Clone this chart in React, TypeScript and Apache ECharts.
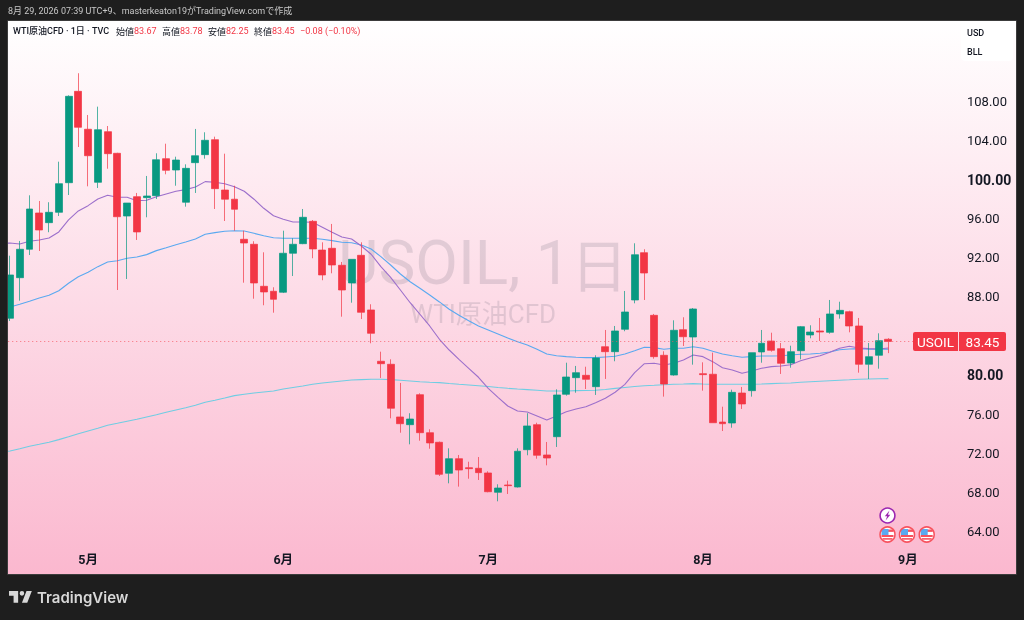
import React, { useEffect, useRef } from "react";
import * as echarts from "echarts";

const dates = [
  "4/20","4/21","4/22","4/23","4/24","4/27","4/28","4/29","4/30","5/1",
  "5/4","5/5","5/6","5/7","5/8","5/11","5/12","5/13","5/14","5/15",
  "5/18","5/19","5/20","5/21","5/22","5/26","5/27","5/28","5/29","6/1",
  "6/2","6/3","6/4","6/5","6/8","6/9","6/10","6/11","6/12","6/15",
  "6/16","6/17","6/18","6/22","6/23","6/24","6/25","6/26","6/29","6/30",
  "7/1","7/2","7/6","7/7","7/8","7/9","7/10","7/13","7/14","7/15",
  "7/16","7/17","7/20","7/21","7/22","7/23","7/24","7/27","7/28","7/29",
  "7/30","7/31","8/3","8/4","8/5","8/6","8/7","8/10","8/11","8/12",
  "8/13","8/14","8/17","8/18","8/19","8/20","8/21","8/24","8/25","8/26",
  "8/27","8/28","8/31","9/1","9/2","9/3","9/4","9/8",
];
const monthDates = ["5/1", "6/1", "7/1", "8/3", "9/1"];
const monthNames = ["5月", "6月", "7月", "8月", "9月"];
const boldTicks = [100, 80];

const opens = [85.82,89.97,92.88,96.59,95.6,96.66,99.69,109.04,105.16,99.73,104.91,102.7,96.28,98.26,98.16,98.36,102.15,100.99,97.69,101.74,102.56,104.09,98.94,98.0,93.9,93.39,89.09,88.58,88.48,92.47,93.45,95.74,92.8,92.98,91.24,89.43,92.26,86.67,81.42,81.11,75.72,74.93,78.0,74.11,73.13,69.96,71.45,70.53,70.47,69.99,68.01,68.76,68.55,72.37,74.93,71.83,73.7,78.04,79.74,79.98,78.82,82.91,82.4,84.69,87.69,92.53,86.12,82.03,80.01,84.65,83.9,80.15,80.09,75.2,75.1,78.17,78.41,82.37,83.49,82.71,81.24,82.5,84.11,84.52,84.38,86.26,86.49,85.03,81.11,82.03,83.67];
const highs = [92.22,93.73,98.4,97.82,97.69,101.84,108.63,110.89,106.62,107.47,105.49,102.75,97.61,98.64,100.38,102.7,103.68,102.35,101.57,105.19,104.85,104.4,102.66,99.38,94.78,93.7,92.57,88.99,94.78,94.0,97.0,95.87,93.59,95.47,91.58,91.85,93.59,87.25,82.4,81.62,79.2,76.1,78.14,74.46,73.2,72.51,71.83,71.14,71.62,70.16,68.83,69.2,72.51,76.1,75.13,73.16,78.55,81.27,80.94,80.86,82.03,84.62,85.03,88.61,93.49,92.88,86.26,82.44,85.61,85.92,86.87,81.31,82.3,76.77,78.51,78.79,82.3,84.62,84.34,83.29,83.01,85.03,85.1,85.85,87.69,87.51,86.59,85.85,83.29,84.28,83.78];
const lows = [85.54,87.62,92.29,92.7,94.62,96.28,98.43,103.34,99.32,99.15,101.12,88.71,89.84,93.83,96.15,98.02,100.55,99.38,97.24,98.64,102.15,97.0,95.77,94.78,89.46,87.82,87.15,86.39,88.4,90.14,93.4,91.96,89.71,90.42,85.98,87.41,85.74,83.26,79.71,75.58,74.11,72.92,73.29,72.47,69.68,68.93,68.59,69.4,69.27,68.01,67.09,67.84,68.5,71.8,71.45,70.77,72.65,77.9,78.2,78.58,77.97,79.61,81.42,84.49,87.35,87.69,81.68,77.8,79.94,82.98,81.07,78.41,75.13,74.28,74.62,76.54,77.8,81.27,82.4,80.12,80.76,81.62,83.77,83.49,84.24,85.78,84.38,80.25,79.61,80.66,82.25];
const closes = [90.25,92.88,97.0,94.85,96.66,99.59,108.53,105.36,102.45,105.11,102.66,96.21,97.61,94.65,98.33,102.04,100.96,102.01,101.16,102.45,104.03,99.08,98.0,96.97,93.52,89.43,88.51,87.76,92.47,93.39,96.15,92.91,90.25,91.27,88.71,91.85,86.43,84.28,81.17,76.61,75.03,75.51,74.11,73.06,69.85,71.45,70.29,70.43,70.02,68.07,68.45,68.69,72.21,74.8,71.8,71.52,77.97,79.81,80.25,79.57,81.75,82.4,84.52,86.46,92.32,90.45,81.89,79.09,84.59,83.93,86.77,80.05,75.13,75.03,78.24,77.05,82.3,83.26,82.54,81.21,82.4,84.96,84.41,84.41,86.26,86.63,85.03,81.11,81.89,83.53,83.45];

const ma20 = [93.5,93.52,93.42,93.7,93.83,94.03,94.65,95.88,96.8,97.34,98.02,98.4,98.2,98.2,97.85,97.89,98.26,98.54,98.81,98.98,99.25,99.8,99.73,99.59,99.28,98.81,98.0,97.07,96.31,95.95,95.67,95.67,95.64,95.13,94.62,94.14,93.93,93.21,92.37,91.1,90.01,88.71,87.41,86.23,85.03,83.67,82.57,81.62,80.7,79.78,78.65,77.73,76.84,76.33,76.23,75.82,75.41,75.82,76.26,76.54,76.77,77.18,77.63,78.25,79.06,80.25,81.17,81.21,81.04,81.21,81.55,82.06,81.89,81.38,80.76,80.53,80.19,80.43,80.7,80.87,80.94,81.07,81.48,81.75,81.99,82.34,82.75,82.95,82.78,82.71,82.68,82.78];
const ma50 = [86.85,86.97,87.25,87.56,87.89,88.17,88.64,89.4,90.07,90.52,91.1,91.58,91.71,91.96,92.09,92.33,92.74,93.04,93.35,93.62,93.93,94.41,94.58,94.72,94.78,94.75,94.51,94.27,94.06,94.0,94.0,94.0,94.0,93.9,93.76,93.59,93.55,93.32,92.91,92.12,91.27,90.35,89.56,88.89,88.2,87.49,86.74,86.12,85.57,85.03,84.62,84.21,83.8,83.42,83.09,82.65,82.16,81.99,81.89,81.83,81.79,81.79,81.86,81.93,82.16,82.5,82.85,82.81,82.65,82.75,82.75,82.91,82.75,82.44,82.16,81.99,81.83,81.89,81.96,81.96,81.99,82.06,82.14,82.16,82.24,82.37,82.6,82.68,82.71,82.65,82.65,82.65];
const ma200 = [72.15,72.24,72.47,72.72,72.92,73.13,73.4,73.7,74.01,74.29,74.56,74.87,75.07,75.28,75.48,75.72,75.95,76.2,76.44,76.67,76.92,77.22,77.43,77.66,77.9,78.04,78.17,78.28,78.38,78.58,78.74,78.89,79.06,79.2,79.3,79.4,79.5,79.54,79.58,79.58,79.54,79.47,79.4,79.33,79.27,79.23,79.14,79.06,78.99,78.92,78.84,78.74,78.65,78.58,78.52,78.45,78.38,78.38,78.38,78.41,78.43,78.45,78.53,78.64,78.74,78.84,78.92,78.96,79.01,79.06,79.09,79.13,79.09,79.06,79.06,79.06,79.06,79.06,79.09,79.13,79.17,79.2,79.27,79.32,79.37,79.42,79.47,79.52,79.58,79.61,79.63,79.64];

const lastPrice = 83.45;
const headerText = "8月 29, 2026 07:39 UTC+9、masterkeaton19がTradingView.comで作成";
const legendTitle = "WTI原油CFD · 1日 · TVC";
const legendLabels = ["始値", "高値", "安値", "終値"];
const legendValues = ["83.67", "83.78", "82.25", "83.45"];
const legendChange = "−0.08 (−0.10%)";

const FONT = "Roboto, 'Noto Sans CJK JP', sans-serif";
const CJK = "'Noto Sans CJK JP', sans-serif";
const UP = "#089981";
const DOWN = "#F23645";
const FRAME = "#1E1E1E";

echarts.graphic.registerShape(
  "tvlogo",
  echarts.graphic.extendPath(
    "M14 6H2v6h6v9h6V6Zm12 15h-7l6-15h7l-6 15Zm-7-9a3 3 0 1 0 0-6 3 3 0 0 0 0 6Z",
    {}
  )
);

function flagIcon(cx: number, cy: number) {
  return {
    type: "group", x: cx, y: cy, z: 40,
    children: [
      { type: "circle", z: 40, shape: { cx: 0, cy: 0, r: 8 }, style: { fill: "#fff" } },
      { type: "rect", z: 41, shape: { x: -6, y: -5, width: 12, height: 2.4 }, style: { fill: "#F7525F" } },
      { type: "rect", z: 41, shape: { x: -6, y: 0.5, width: 12, height: 2 }, style: { fill: "#F7525F" } },
      { type: "rect", z: 41, shape: { x: -5, y: 3.6, width: 10, height: 1.6 }, style: { fill: "#F7525F" } },
      { type: "rect", z: 42, shape: { x: -6, y: -5.5, width: 7, height: 6 }, style: { fill: "#5AA9F0" } },
      { type: "circle", z: 43, shape: { cx: 0, cy: 0, r: 7.5 }, style: { fill: "none", stroke: "#F7525F", lineWidth: 1.6 } },
    ],
  };
}

function buildGraphics() {
  const legendX = [116, 162, 208, 254];
  const elements: any[] = [
    {
      type: "rect", z: -10, silent: true,
      shape: { x: 8, y: 21, width: 1008, height: 553 },
      style: {
        fill: new echarts.graphic.LinearGradient(0, 0, 0, 1, [
          { offset: 0, color: "#FFFFFF" },
          { offset: 1, color: "#FBB8CF" },
        ]),
      },
    },
    {
      type: "text", z: -5, x: 483, y: 262,
      style: {
        text: "{a|USOIL, 1}{b|日}",
        fill: "rgba(90,90,105,0.17)",
        textAlign: "center",
        textVerticalAlign: "middle",
        rich: {
          a: { font: `400 62px ${FONT}`, fill: "rgba(90,90,105,0.17)" },
          b: { font: `400 57px ${CJK}`, fill: "rgba(90,90,105,0.17)" },
        },
      },
    },
    {
      type: "text", z: -5, x: 483, y: 314,
      style: { text: "WTI原油CFD", font: `400 26px ${FONT}`, fill: "rgba(90,90,105,0.17)", textAlign: "center", textVerticalAlign: "middle" },
    },
    { type: "rect", z: 100, shape: { x: 0, y: 0, width: 1024, height: 21 }, style: { fill: FRAME } },
    { type: "rect", z: 100, shape: { x: 0, y: 574, width: 1024, height: 46 }, style: { fill: FRAME } },
    { type: "rect", z: 100, shape: { x: 0, y: 0, width: 8, height: 620 }, style: { fill: FRAME } },
    { type: "rect", z: 100, shape: { x: 1016, y: 0, width: 8, height: 620 }, style: { fill: FRAME } },
    { type: "rect", z: 101, shape: { x: 7.5, y: 20.5, width: 1009, height: 554 }, style: { fill: "none", stroke: "#3C3C3C", lineWidth: 1 } },
    {
      type: "text", z: 102, x: 8, y: 11,
      style: { text: headerText, font: `400 9px ${FONT}`, fill: "#C8C8C8", textVerticalAlign: "middle" },
    },
    {
      type: "text", z: 30, x: 13, y: 31,
      style: { text: legendTitle, font: `500 9px ${FONT}`, fill: "#131722", textVerticalAlign: "middle" },
    },
    {
      type: "text", z: 30, x: 300, y: 31,
      style: { text: legendChange, font: `400 9px ${FONT}`, fill: DOWN, textVerticalAlign: "middle" },
    },
    { type: "rect", z: 30, shape: { x: 961, y: 23, width: 52, height: 38, r: 4 }, style: { fill: "rgba(255,255,255,0.85)" } },
    { type: "text", z: 31, x: 967, y: 33, style: { text: "USD", font: `500 9px ${FONT}`, fill: "#131722", textVerticalAlign: "middle" } },
    { type: "text", z: 31, x: 967, y: 52, style: { text: "BLL", font: `500 9px ${FONT}`, fill: "#131722", textVerticalAlign: "middle" } },
    { type: "rect", z: 50, shape: { x: 913, y: 332, width: 45, height: 19, r: [2, 0, 0, 2] }, style: { fill: DOWN } },
    { type: "rect", z: 50, shape: { x: 959, y: 332, width: 47, height: 19, r: [0, 2, 2, 0] }, style: { fill: DOWN } },
    { type: "text", z: 51, x: 935.5, y: 341.5, style: { text: "USOIL", font: `400 13.5px ${FONT}`, fill: "#fff", textAlign: "center", textVerticalAlign: "middle" } },
    { type: "text", z: 51, x: 982.5, y: 341.5, style: { text: lastPrice.toFixed(2), font: `400 13.5px ${FONT}`, fill: "#fff", textAlign: "center", textVerticalAlign: "middle" } },
    { type: "circle", z: 40, shape: { cx: 887.5, cy: 515.5, r: 7.4 }, style: { fill: "#fff", stroke: "#9C27B0", lineWidth: 1.6 } },
    {
      type: "polygon", z: 41,
      shape: { points: [[889.5, 510.5], [884.8, 516.3], [887.2, 516.3], [885.6, 520.5], [890.3, 514.7], [887.9, 514.7]] },
      style: { fill: "#9C27B0" },
    },
    flagIcon(887.5, 534.5),
    flagIcon(907, 534.5),
    flagIcon(926.7, 534.5),
    { type: "tvlogo", z: 102, x: 7.5, y: 586.3, scaleX: 0.76, scaleY: 0.78, style: { fill: "#D8D8D8" } },
    {
      type: "text", z: 102, x: 37, y: 597.5,
      style: { text: "TradingView", font: "600 15px Inter, sans-serif", fill: "#D8D8D8", textVerticalAlign: "middle" },
    },
  ];
  legendLabels.forEach((label, i) => {
    elements.push({
      type: "text", z: 30, x: legendX[i], y: 31,
      style: { text: label, font: `400 9px ${CJK}`, fill: "#131722", textVerticalAlign: "middle" },
    });
    elements.push({
      type: "text", z: 30, x: legendX[i] + 18, y: 31,
      style: { text: legendValues[i], font: `400 9px ${FONT}`, fill: DOWN, textVerticalAlign: "middle" },
    });
  });
  return elements;
}

export default function App() {
  const ref = useRef<HTMLDivElement>(null);
  useEffect(() => {
    document.body.style.margin = "0";
    const chart = echarts.init(ref.current!, undefined, { renderer: "svg" });
    const candles: any[] = [["-", "-", "-", "-"]];
    closes.forEach((c, i) => candles.push([opens[i], c, lows[i], highs[i]]));
    const lineSeries = (data: number[], color: string) => ({
      type: "line",
      data,
      showSymbol: false,
      symbol: "none",
      silent: true,
      lineStyle: { color, width: 1.1 },
      z: 2,
    });
    chart.setOption({
      animation: false,
      backgroundColor: "transparent",
      grid: { left: 0.24, top: 23.3, width: 946.72, height: 547.29, outerBoundsMode: "none", containLabel: false },
      xAxis: {
        type: "category",
        data: dates,
        boundaryGap: false,
        containShape: false,
        axisLine: { show: false },
        axisTick: { show: false },
        splitLine: { show: false },
        axisLabel: {
          inside: true,
          interval: 0,
          margin: 5,
          color: "#131722",
          fontSize: 12.5,
          fontWeight: 700,
          fontFamily: FONT,
          hideOverlap: false,
          formatter: (v: string) => {
            const k = monthDates.indexOf(v);
            return k >= 0 ? monthNames[k] : "";
          },
        },
      },
      yAxis: {
        type: "value",
        position: "right",
        min: 60,
        max: 116,
        interval: 4,
        axisLine: { show: false },
        axisTick: { show: false },
        splitLine: { show: false },
        axisLabel: {
          margin: 20.04,
          align: "left",
          color: "#131722",
          fontSize: 13,
          fontFamily: FONT,
          showMinLabel: true,
          showMaxLabel: true,
          formatter: (v: number) => {
            if (v < 64 || v > 108) return "";
            const s = v.toFixed(2);
            return boldTicks.includes(v) ? `{b|${s}}` : s;
          },
          rich: { b: { fontWeight: 700, fontSize: 14, color: "#131722", fontFamily: FONT } },
        },
      },
      series: [
        lineSeries(ma200, "#6FCDE3"),
        lineSeries(ma50, "#5AA9F0"),
        lineSeries(ma20, "#9C6FCB"),
        {
          type: "candlestick",
          data: candles,
          barWidth: 7.4,
          z: 3,
          silent: true,
          itemStyle: {
            color: UP,
            color0: DOWN,
            borderColor: "rgba(8,153,129,0.7)",
            borderColor0: "rgba(242,54,69,0.7)",
            borderWidth: 1,
          },
          markLine: {
            silent: true,
            symbol: "none",
            label: { show: false },
            lineStyle: { color: "#F7525F", type: [1, 3], width: 1, opacity: 0.8 },
            data: [{ yAxis: lastPrice }],
          },
        },
      ],
      graphic: { elements: buildGraphics() },
    });
    return () => chart.dispose();
  }, []);
  return <div ref={ref} style={{ position: "fixed", left: 0, top: 0, width: 1024, height: 620 }} />;
}
